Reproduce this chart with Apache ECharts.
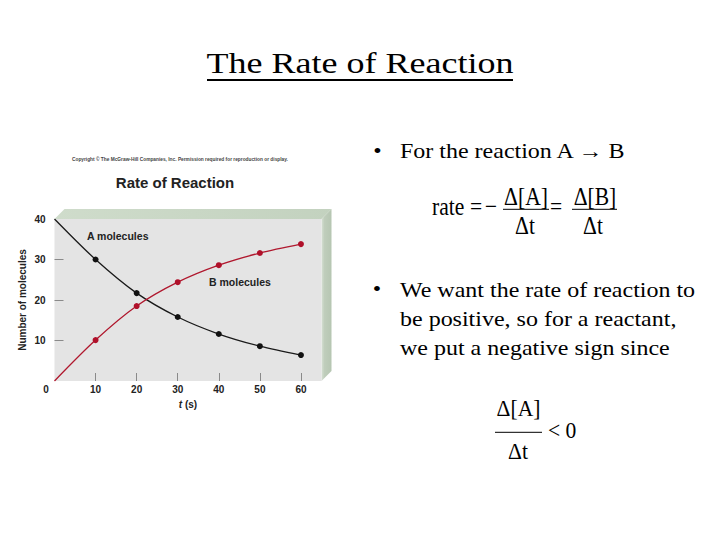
<!DOCTYPE html>
<html>
<head>
<meta charset="utf-8">
<script src="https://cdn.jsdelivr.net/npm/echarts@6/dist/echarts.min.js"></script>
<style>
html,body{margin:0;padding:0;background:#fff;}
#c{width:720px;height:540px;}
</style>
</head>
<body>
<div id="c"></div>
<script>
// Data
const times = [0, 10, 20, 30, 40, 50, 60];
const aMolecules = [40, 30, 21.7, 15.8, 11.6, 8.6, 6.4];
const bMolecules = [0, 10.1, 18.5, 24.4, 28.6, 31.6, 33.8];
const xTickLabels = [0, 10, 20, 30, 40, 50, 60];
const yTickLabels = [10, 20, 30, 40];

const chart = echarts.init(document.getElementById('c'), null, {renderer: 'svg', width: 720, height: 540});

function seriesData(vals) {
  return times.map((t, i) => i === 0 ? {value: [t, vals[i]], symbol: 'none'} : {value: [t, vals[i]]});
}

const serif = '"Liberation Serif", "Times New Roman", serif';
const sans = '"Liberation Sans", Arial, sans-serif';

const option = {
  backgroundColor: '#ffffff',
  animation: false,
  grid: {
    left: 54.5, top: 219, width: 267, height: 162,
    show: true, backgroundColor: '#e4e4e4', borderWidth: 0
  },
  xAxis: {
    type: 'value', min: 0, max: 65,
    axisLine: {show: false},
    splitLine: {show: false},
    axisTick: {show: true, inside: true, length: 8, customValues: xTickLabels.slice(1), lineStyle: {color: '#8a8a8a', width: 1}},
    axisLabel: {
      customValues: xTickLabels, margin: 3,
      fontFamily: sans, fontWeight: 'bold', fontSize: 10, color: '#222',
      formatter: v => v === 0 ? '{o|0}' : String(v),
      rich: {o: {fontFamily: sans, fontWeight: 'bold', fontSize: 10, color: '#222', padding: [0, 17, 0, 0]}}
    },
    name: '{i|t} (s)', nameLocation: 'middle', nameGap: 18,
    nameTextStyle: {fontFamily: sans, fontWeight: 'bold', fontSize: 10, color: '#222',
      rich: {i: {fontFamily: sans, fontWeight: 'bold', fontStyle: 'italic', fontSize: 10, color: '#222'}}}
  },
  yAxis: {
    type: 'value', min: 0, max: 40, interval: 10,
    axisLine: {show: false},
    splitLine: {show: false},
    axisTick: {show: true, inside: true, length: 9, customValues: [10, 20, 30], lineStyle: {color: '#8a8a8a', width: 1}},
    axisLabel: {customValues: yTickLabels, margin: 9, fontFamily: sans, fontWeight: 'bold', fontSize: 10, color: '#222'},
    name: 'Number of molecules', nameLocation: 'middle', nameGap: 27, nameRotate: 90,
    nameTextStyle: {fontFamily: sans, fontWeight: 'bold', fontSize: 10, color: '#222'}
  },
  series: [
    {
      name: 'A molecules', type: 'line', smooth: 0.3,
      data: seriesData(aMolecules),
      symbol: 'circle', symbolSize: 6,
      lineStyle: {color: '#1a1a1a', width: 1.3},
      itemStyle: {color: '#111'}, z: 3
    },
    {
      name: 'B molecules', type: 'line', smooth: 0.3,
      data: seriesData(bMolecules),
      symbol: 'circle', symbolSize: 6,
      lineStyle: {color: '#b0182e', width: 1.3},
      itemStyle: {color: '#b0102a'}, z: 3
    }
  ]
};
chart.setOption(option);

// 3D panel faces derived from the grid
const p = (x, y) => chart.convertToPixel({gridIndex: 0}, [x, y]);
const tl = p(0, 40), tr = p(65, 40), br = p(65, 0);
const d = 10;

// serif text helper: positioned element, scaled horizontally around its anchor
function st(text, x, y, size, sx, align) {
  return {type: 'text', x: x, y: y, scaleX: sx,
    style: {text: text, x: 0, y: 0, align: align || 'left', verticalAlign: 'middle', fontFamily: serif, fontSize: size, fill: '#000'}};
}
function bar(x1, x2, y) {
  return {type: 'line', shape: {x1: x1, y1: y, x2: x2, y2: y}, style: {stroke: '#000', lineWidth: 1}};
}

const graphics = [
  {type: 'polygon', z: -1, shape: {points: [tl, tr, [tr[0] + d, tr[1] - d], [tl[0] + d, tl[1] - d]]},
   style: {fill: new echarts.graphic.LinearGradient(0, 0, 1, 0, [{offset: 0, color: '#cfdccb'}, {offset: 1, color: '#c3d2bf'}])}},
  {type: 'polygon', z: -1, shape: {points: [tr, [tr[0] + d, tr[1] - d], [br[0] + d, br[1] - d], br]},
   style: {fill: new echarts.graphic.LinearGradient(0, 0, 1, 0, [{offset: 0, color: '#d6e0d3'}, {offset: 0.3, color: '#bfcdbb'}, {offset: 1, color: '#b6c6b2'}])}},
  // chart header texts
  {type: 'text', style: {text: 'Copyright \u00A9 The McGraw-Hill Companies, Inc. Permission required for reproduction or display.',
    x: 72, y: 159, verticalAlign: 'middle', fontFamily: sans, fontWeight: 'bold', fontSize: 4.8, fill: '#444'}},
  {type: 'text', style: {text: 'Rate of Reaction', x: 175, y: 182, align: 'center', verticalAlign: 'middle',
    fontFamily: sans, fontWeight: 'bold', fontSize: 15, fill: '#222'}},
  {type: 'text', style: {text: 'A molecules', x: 87, y: 236, verticalAlign: 'middle', fontFamily: sans, fontWeight: 'bold', fontSize: 10.5, fill: '#222'}},
  {type: 'text', style: {text: 'B molecules', x: 209, y: 282, verticalAlign: 'middle', fontFamily: sans, fontWeight: 'bold', fontSize: 10.5, fill: '#222'}},
  // slide title
  st('The Rate of Reaction', 360, 62.6, 30, 1.2, 'center'),
  {type: 'line', shape: {x1: 207, y1: 80, x2: 513, y2: 80}, style: {stroke: '#000', lineWidth: 2}},
  // bullet 1
  st('\u2022', 377.5, 151.6, 20, 1.2, 'center'),
  st('For the reaction A \u2192 B', 400, 151.6, 20, 1.2),
  // formula 1
  st('rate', 432, 206.2, 26, 0.83),
  st('=', 476, 206.2, 26, 0.83, 'center'),
  st('\u2212', 491, 206.2, 26, 0.83, 'center'),
  st('\u0394[A]', 526, 196.2, 26, 0.83, 'center'),
  bar(503, 549, 209.3),
  st('\u0394t', 525, 225.2, 26, 0.83, 'center'),
  st('=', 556, 206.2, 26, 0.83, 'center'),
  st('\u0394[B]', 595, 196.2, 26, 0.83, 'center'),
  bar(572, 617, 209.3),
  st('\u0394t', 593, 225.2, 26, 0.83, 'center'),
  // bullet 2
  st('\u2022', 377, 289.6, 20, 1.2, 'center'),
  st('We want the rate of reaction to', 400, 290, 20, 1.2),
  st('be positive, so for a reactant,', 400, 319.3, 20, 1.2),
  st('we put a negative sign since', 400, 348.3, 20, 1.2),
  // formula 2
  st('\u0394[A]', 518.5, 408.6, 24, 0.9, 'center'),
  bar(495, 542, 432.3),
  st('\u0394t', 518, 451.2, 24, 0.9, 'center'),
  st('< 0', 548, 430.2, 24, 0.9)
];
chart.setOption({graphic: graphics});
</script>
</body>
</html>
